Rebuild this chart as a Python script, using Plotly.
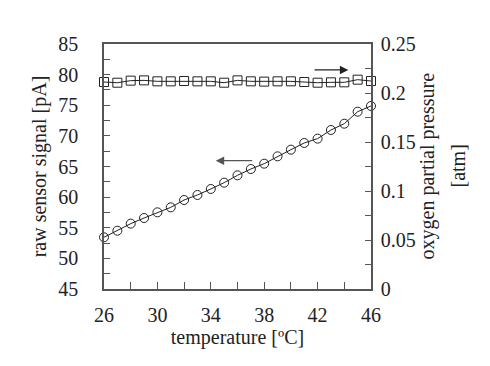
import plotly.graph_objects as go

temperature = list(range(26, 47))
raw_signal = [53.44, 54.52, 55.67, 56.59, 57.52, 58.33, 59.53, 60.35, 61.33, 62.36,
              63.56, 64.59, 65.46, 66.66, 67.75, 68.84, 69.55, 70.96, 71.99, 73.95, 74.88]
oxygen_pp = [0.2112, 0.2105, 0.2126, 0.2129, 0.2119, 0.2119, 0.2122, 0.2119, 0.2119, 0.2105,
             0.2129, 0.2119, 0.2116, 0.2119, 0.2119, 0.2112, 0.2105, 0.2109, 0.2109, 0.2136, 0.2122]

right_arrow = dict(x_tail=41.66, x_head=44.3, y=0.2235)
left_arrow = dict(x_tail=37.21, x_head=34.37, y=65.95)

right_title_lines = ["oxygen partial pressure", "[atm]"]

font_family = "Liberation Serif"
axis_col = "#555555"
line_col = "#222222"

fig = go.Figure()
fig.add_trace(go.Scatter(
    x=temperature, y=raw_signal, mode="lines+markers",
    line=dict(color=line_col, width=1),
    marker=dict(symbol="circle-open", size=9, color=line_col, line=dict(width=1)),
    cliponaxis=False, showlegend=False))
fig.add_trace(go.Scatter(
    x=temperature, y=oxygen_pp, mode="lines+markers", yaxis="y2",
    line=dict(color=line_col, width=1),
    marker=dict(symbol="square-open", size=9, color=line_col, line=dict(width=1)),
    cliponaxis=False, showlegend=False))

fig.add_annotation(x=right_arrow["x_head"], y=right_arrow["y"], ax=right_arrow["x_tail"], ay=right_arrow["y"],
                   xref="x", yref="y2", axref="x", ayref="y2", showarrow=True, text="",
                   arrowhead=2, arrowsize=1.3, arrowwidth=1.3, arrowcolor="#222222")
fig.add_annotation(x=left_arrow["x_head"], y=left_arrow["y"], ax=left_arrow["x_tail"], ay=left_arrow["y"],
                   xref="x", yref="y", axref="x", ayref="y", showarrow=True, text="",
                   arrowhead=2, arrowsize=1.3, arrowwidth=1.3, arrowcolor="#555555")

tickfont = dict(family=font_family, size=20, color="#222222")
titlefont = dict(family=font_family, size=20, color="#222222")

for i, (line, shift) in enumerate(zip(right_title_lines, [56, 86])):
    fig.add_annotation(x=1, y=0.5, xref="paper", yref="paper", text=line, showarrow=False,
                       textangle=-90, xshift=shift, font=titlefont, xanchor="center", yanchor="middle")

fig.update_layout(
    width=490, height=366,
    margin=dict(l=96, r=127, t=36, b=85),
    paper_bgcolor="white", plot_bgcolor="white",
    xaxis=dict(range=[26, 46], tick0=26, dtick=4, ticks="inside", ticklen=7, tickcolor=axis_col,
               minor=dict(dtick=2, tick0=26, ticks="inside", ticklen=7, tickcolor=axis_col),
               showline=True, linecolor=axis_col, linewidth=1.5, mirror=True,
               showgrid=False, zeroline=False, tickfont=tickfont, ticklabelstandoff=7,
               title=dict(text="temperature [ºC]", font=titlefont, standoff=2)),
    yaxis=dict(range=[45, 85], dtick=5, ticks="inside", ticklen=6, tickcolor=axis_col,
               minor=dict(dtick=2.5, ticks="inside", ticklen=6, tickcolor=axis_col),
               showline=True, linecolor=axis_col, linewidth=1.5,
               showgrid=False, zeroline=False, tickfont=tickfont, ticklabelstandoff=20,
               title=dict(text="raw sensor signal [pA]", font=titlefont, standoff=6)),
    yaxis2=dict(range=[0, 0.25], dtick=0.05, overlaying="y", side="right",
                ticks="inside", ticklen=6, tickcolor=axis_col,
                minor=dict(dtick=0.025, ticks="inside", ticklen=6, tickcolor=axis_col),
                showline=True, linecolor=axis_col, linewidth=1.5,
                showgrid=False, zeroline=False, tickfont=tickfont, ticklabelstandoff=4),
)

fig.write_html("out.html")
